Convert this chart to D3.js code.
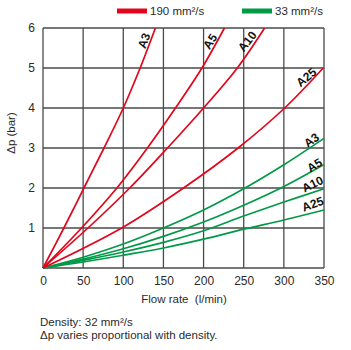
<!DOCTYPE html>
<html><head><meta charset="utf-8">
<script src="https://cdn.jsdelivr.net/npm/d3@7"></script>
<style>
body{margin:0;background:#fff;}
svg{display:block;font-family:"Liberation Sans",Arial,Helvetica,sans-serif;}
</style></head>
<body>
<svg id="chart" width="351" height="350"></svg>
<script>
const xTicks = [0,50,100,150,200,250,300,350];
const yTicks = [1,2,3,4,5,6];
const legendLabels = ["190 mm²/s","33 mm²/s"];
const seriesNames = ["A3","A5","A10","A25"];

// 190 mm²/s (red) curves: flow values at given Δp
const redA3Flow  = [0,26,51,76,100,121,140];
const redA3P     = [0,1,2,3,4,5,6];
const redA5Flow  = [0,48,92,130,165,198,226];
const redA5P     = [0,1,2,3,4,5,6];
const redA10Flow = [0,56,108,155,200,242,276];
const redA10P    = [0,1,2,3,4,5,6];
const redA25Flow = [0,98,175,243,301,349];
const redA25P    = [0,1,2,3,4,5];

// 33 mm²/s (green) curves
const greenFlow  = [0,50,100,150,200,250,300,350];
const greenA3P   = [0,0.27,0.60,1.00,1.45,1.98,2.58,3.24];
const greenA5P   = [0,0.22,0.48,0.79,1.15,1.57,2.04,2.59];
const greenA10P  = [0,0.19,0.40,0.64,0.93,1.30,1.65,1.98];
const greenA25P  = [0,0.15,0.32,0.50,0.72,0.97,1.20,1.45];

const RED = "#e2061b", GREEN = "#009a47", GRID = "#4a4a4a", TXT = "#2b2b2b";

const svg = d3.select("#chart");
const L = 43, R = 324, T = 28, B = 268;
const x = d3.scaleLinear().domain([0,350]).range([L,R]);
const y = d3.scaleLinear().domain([0,6]).range([B,T]);

// grid
const g = svg.append("g");
g.selectAll(".vx").data(xTicks).enter().append("line")
  .attr("x1",d=>x(d)).attr("x2",d=>x(d)).attr("y1",T).attr("y2",B)
  .attr("stroke",GRID).attr("stroke-width",1.3);
g.selectAll(".hy").data([0].concat(yTicks)).enter().append("line")
  .attr("x1",L).attr("x2",R).attr("y1",d=>y(d)).attr("y2",d=>y(d))
  .attr("stroke",GRID).attr("stroke-width",1.3);

// axes labels via d3 axes (no lines)
const xAxis = svg.append("g").attr("transform",`translate(0,${B})`)
  .call(d3.axisBottom(x).tickValues(xTicks).tickFormat(d3.format("d")).tickSize(0).tickPadding(8));
const yAxis = svg.append("g").attr("transform",`translate(${L},0)`)
  .call(d3.axisLeft(y).tickValues(yTicks).tickFormat(d3.format("d")).tickSize(0).tickPadding(8));
[xAxis,yAxis].forEach(a=>{
  a.select(".domain").remove();
  a.selectAll("text").attr("fill",TXT).attr("font-size",12)
   .attr("font-family",'"Liberation Sans",Arial,sans-serif');
});

const line = d3.line().x(d=>x(d[0])).y(d=>y(d[1])).curve(d3.curveCatmullRom.alpha(0.5));
const redSeries = [
  d3.zip(redA3Flow,redA3P), d3.zip(redA5Flow,redA5P),
  d3.zip(redA10Flow,redA10P), d3.zip(redA25Flow,redA25P)];
const greenSeries = [greenA3P,greenA5P,greenA10P,greenA25P].map(p=>d3.zip(greenFlow,p));

svg.append("g").selectAll("path").data(greenSeries).enter().append("path")
  .attr("d",line).attr("fill","none").attr("stroke",GREEN).attr("stroke-width",1.7);
svg.append("g").selectAll("path").data(redSeries).enter().append("path")
  .attr("d",line).attr("fill","none").attr("stroke",RED).attr("stroke-width",1.7);

// curve labels
const redLab = [[145,41,-70],[211,42,-58],[248,42,-52],[307,78,-40]];
const greenLab = [[312,141,-36],[315,166,-32],[313,185,-26],[313,205,-20]];
function labels(pos){
  svg.append("g").selectAll("text").data(pos).enter().append("text")
    .attr("transform",d=>`translate(${d[0]},${d[1]}) rotate(${d[2]})`)
    .attr("text-anchor","middle").attr("dominant-baseline","middle")
    .attr("font-size",12).attr("font-weight","bold").attr("fill","#111")
    .text((d,i)=>seriesNames[i]);
}
labels(redLab); labels(greenLab);

// legend
const leg = svg.append("g");
[[117,RED],[242,GREEN]].forEach((d,i)=>{
  leg.append("rect").attr("x",d[0]).attr("y",8.5).attr("width",30).attr("height",5).attr("fill",d[1]);
  leg.append("text").attr("x",d[0]+33).attr("y",15).attr("font-size",11.5).attr("fill",TXT)
    .text(legendLabels[i]);
});

// axis titles
svg.append("text").attr("x",184).attr("y",303).attr("text-anchor","middle")
  .attr("font-size",11.5).attr("fill",TXT).attr("xml:space","preserve").text("Flow rate  (l/min)");
svg.append("text").attr("transform","translate(15,133) rotate(-90)").attr("text-anchor","middle")
  .attr("font-size",11.5).attr("fill",TXT).text("Δp (bar)");

// footnote
svg.append("text").attr("x",40).attr("y",326).attr("font-size",11.5).attr("fill",TXT).text("Density: 32 mm²/s");
svg.append("text").attr("x",40).attr("y",339).attr("font-size",11.5).attr("fill",TXT).text("Δp varies proportional with density.");
</script>
</body></html>
